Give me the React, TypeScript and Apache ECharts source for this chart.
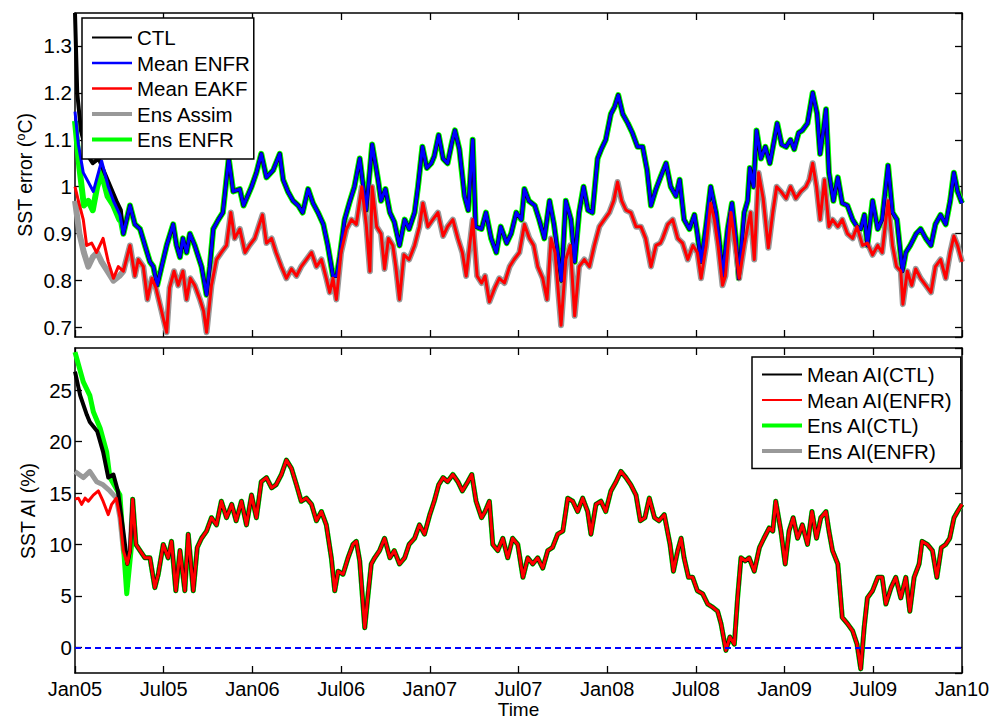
import React, { useEffect, useRef } from "react";
import * as echarts from "echarts";

// x = months after Jan 2005 (0 = Jan05, 60 = Jan10)
const tickLabels = ["Jan05", "Jul05", "Jan06", "Jul06", "Jan07", "Jul07", "Jan08", "Jul08", "Jan09", "Jul09", "Jan10"];

// ---------- Top panel: SST error (°C) ----------
const meanEnfr = [[0,1.16],[0.23,1.09],[0.56,1.03],[0.9,1.01],[1.24,0.99],[1.8,1.055],[2.25,1.0],[2.6,0.97],[3.04,0.94],[3.27,0.9],[3.72,0.96],[4.05,0.92],[4.4,0.91],[4.73,0.875],[5.07,0.84],[5.3,0.83],[5.56,0.79],[5.86,0.83],[6.2,0.875],[6.64,0.92],[6.87,0.875],[7.1,0.85],[7.3,0.89],[7.55,0.86],[7.77,0.9],[8.1,0.875],[8.56,0.83],[8.9,0.77],[9.12,0.83],[9.35,0.91],[9.7,0.93],[10.0,0.945],[10.4,1.06],[10.7,0.99],[11.15,0.995],[11.4,0.96],[11.94,1.0],[12.27,1.03],[12.6,1.07],[12.95,1.02],[13.4,1.035],[13.85,1.07],[14.08,1.015],[14.4,0.99],[14.75,0.97],[15.1,0.96],[15.4,0.945],[15.77,0.995],[16.1,0.965],[16.44,0.945],[16.8,0.92],[17.1,0.875],[17.45,0.81],[17.7,0.81],[17.9,0.85],[18.24,0.93],[18.6,0.97],[18.9,1.0],[19.26,1.06],[19.5,1.0],[19.7,0.95],[20.1,1.09],[20.5,1.015],[20.7,0.97],[21.0,0.995],[21.3,0.945],[21.6,0.925],[21.95,0.875],[22.3,0.93],[22.6,0.91],[22.97,0.945],[23.2,1.0],[23.5,1.085],[23.8,1.04],[24.1,1.05],[24.3,1.065],[24.6,1.11],[24.9,1.06],[25.2,1.05],[25.5,1.095],[25.7,1.12],[26.0,1.08],[26.35,0.98],[26.6,0.95],[26.9,1.1],[27.1,0.915],[27.5,0.91],[27.8,0.945],[28.15,0.89],[28.5,0.86],[28.8,0.915],[29.2,0.88],[29.5,0.9],[29.85,0.945],[30.2,0.93],[30.4,0.995],[30.7,0.97],[31.1,0.96],[31.4,0.93],[31.75,0.89],[32.1,0.97],[32.4,0.92],[32.9,0.8],[33.2,0.97],[33.55,0.93],[33.8,0.84],[34.1,0.945],[34.4,1.0],[34.7,0.95],[35.0,0.945],[35.35,1.06],[35.6,1.08],[35.9,1.1],[36.25,1.155],[36.5,1.17],[36.75,1.195],[37.05,1.155],[37.4,1.135],[37.7,1.115],[38.05,1.085],[38.4,1.085],[38.7,1.035],[38.96,0.96],[39.3,0.995],[39.6,1.02],[39.98,1.05],[40.3,1.0],[40.65,0.98],[40.9,1.015],[41.2,0.93],[41.56,0.91],[41.9,0.94],[42.1,0.9],[42.35,0.84],[42.7,0.92],[43.0,1.0],[43.36,0.945],[43.6,0.88],[43.8,0.81],[44.15,0.91],[44.44,0.965],[44.7,0.89],[44.9,0.805],[45.27,0.945],[45.5,0.97],[45.65,1.04],[45.9,1.0],[46.1,1.12],[46.4,1.06],[46.7,1.085],[47.0,1.05],[47.3,1.1],[47.5,1.135],[47.8,1.09],[48.1,1.085],[48.4,1.1],[48.65,1.08],[48.95,1.115],[49.2,1.12],[49.55,1.135],[49.9,1.2],[50.2,1.155],[50.4,1.07],[50.6,1.115],[50.8,1.165],[51.0,1.03],[51.3,0.97],[51.6,1.02],[51.9,0.965],[52.25,0.96],[52.6,0.93],[52.9,0.915],[53.15,0.91],[53.4,0.94],[53.6,0.875],[53.95,0.97],[54.3,0.91],[54.6,0.93],[55.0,1.045],[55.3,0.945],[55.6,0.93],[55.97,0.82],[56.2,0.86],[56.5,0.875],[56.9,0.9],[57.2,0.91],[57.55,0.89],[57.9,0.875],[58.2,0.92],[58.55,0.94],[58.9,0.92],[59.2,0.97],[59.45,1.03],[59.7,0.99],[60,0.965]];

const meanEakf = [[0,1.0],[0.23,0.97],[0.56,0.93],[0.79,0.875],[1.13,0.88],[1.46,0.86],[1.9,0.89],[2.25,0.84],[2.6,0.805],[2.93,0.83],[3.27,0.82],[3.72,0.875],[4.05,0.81],[4.28,0.845],[4.62,0.83],[4.9,0.76],[5.2,0.805],[5.47,0.785],[5.74,0.75],[6.2,0.69],[6.4,0.785],[6.7,0.82],[6.98,0.79],[7.3,0.82],[7.55,0.76],[7.8,0.805],[8.1,0.79],[8.45,0.76],[8.7,0.735],[8.9,0.69],[9.23,0.79],[9.57,0.845],[9.9,0.86],[10.25,0.875],[10.54,0.945],[10.8,0.89],[11.15,0.91],[11.5,0.86],[11.8,0.875],[12.16,0.89],[12.68,0.94],[12.95,0.88],[13.3,0.89],[13.6,0.86],[13.96,0.83],[14.3,0.805],[14.64,0.825],[14.98,0.81],[15.3,0.83],[15.65,0.845],[16.0,0.86],[16.33,0.83],[16.67,0.845],[17.0,0.805],[17.23,0.775],[17.45,0.805],[17.68,0.76],[18.0,0.86],[18.36,0.91],[18.7,0.93],[19.03,0.92],[19.4,1.0],[19.7,0.92],[19.95,0.82],[20.1,1.0],[20.4,0.915],[20.7,0.9],[20.94,0.825],[21.2,0.89],[21.5,0.875],[21.7,0.83],[21.95,0.76],[22.25,0.855],[22.6,0.845],[22.97,0.875],[23.3,0.915],[23.53,0.965],[23.87,0.915],[24.2,0.93],[24.55,0.945],[24.9,0.895],[25.2,0.915],[25.56,0.93],[25.9,0.89],[26.2,0.86],[26.46,0.81],[26.9,0.93],[27.2,0.81],[27.5,0.795],[27.74,0.81],[28.03,0.755],[28.4,0.785],[28.7,0.805],[29.05,0.795],[29.4,0.83],[29.7,0.845],[30.06,0.86],[30.4,0.92],[30.74,0.89],[31.03,0.875],[31.3,0.83],[31.64,0.805],[31.93,0.76],[32.2,0.89],[32.47,0.86],[32.88,0.705],[33.2,0.845],[33.5,0.875],[33.8,0.725],[34.1,0.83],[34.45,0.845],[34.8,0.83],[35.13,0.875],[35.47,0.915],[35.8,0.93],[36.14,0.945],[36.44,0.97],[36.7,1.01],[36.98,0.97],[37.27,0.95],[37.6,0.945],[37.95,0.915],[38.28,0.915],[38.6,0.89],[38.96,0.83],[39.3,0.875],[39.6,0.88],[39.75,0.89],[40.1,0.92],[40.43,0.93],[40.77,0.89],[41.1,0.88],[41.45,0.845],[41.8,0.875],[42.1,0.86],[42.35,0.805],[42.7,0.875],[43.0,0.965],[43.25,0.93],[43.5,0.875],[43.8,0.79],[44.0,0.81],[44.37,0.945],[44.66,0.875],[44.93,0.805],[45.27,0.875],[45.5,0.915],[45.7,0.945],[45.95,0.845],[46.24,1.03],[46.55,0.975],[46.9,0.87],[47.2,0.945],[47.46,1.0],[47.75,0.99],[48.1,0.975],[48.4,1.0],[48.76,0.975],[49.1,0.99],[49.44,1.0],[49.67,1.015],[49.9,1.05],[50.16,1.0],[50.4,0.93],[50.7,1.015],[51.0,0.915],[51.24,0.93],[51.6,0.915],[51.9,0.93],[52.25,0.9],[52.6,0.89],[52.9,0.915],[53.27,0.875],[53.6,0.88],[53.95,0.855],[54.3,0.875],[54.6,0.86],[55.0,0.97],[55.3,0.875],[55.57,0.83],[55.86,0.82],[56.0,0.75],[56.3,0.82],[56.6,0.79],[56.87,0.825],[57.2,0.805],[57.55,0.79],[57.9,0.775],[58.2,0.83],[58.55,0.845],[58.9,0.805],[59.2,0.86],[59.45,0.895],[59.7,0.875],[60,0.84]];

// where the other top curves leave the mean curves (first months); afterwards they overlap them
const ctlStart = [[0,1.37],[0.15,1.2],[0.4,1.12],[0.8,1.07],[1.2,1.05],[1.6,1.06],[2.0,1.03],[2.4,1.0],[2.8,0.97],[3.1,0.95]];
const ensEnfrStart = [[0,1.14],[0.3,1.04],[0.6,0.96],[0.9,0.97],[1.2,0.95],[1.5,1.0],[1.8,1.03],[2.2,0.98],[2.6,0.96],[3.0,0.93]];
const ensAssimStart = [[0,0.97],[0.3,0.9],[0.6,0.86],[0.9,0.83],[1.2,0.85],[1.5,0.86],[1.8,0.84],[2.2,0.82],[2.6,0.8],[3.0,0.81]];

// ---------- Bottom panel: SST AI (%) ----------
const meanAiEnfr = [[0,14.4],[0.23,14.5],[0.45,13.9],[0.68,14.5],[0.9,14.2],[1.24,14.8],[1.58,15.2],[1.9,14.2],[2.25,12.9],[2.48,13.9],[2.8,14.5],[3.04,12.6],[3.27,9.4],[3.54,8.1],[3.72,9.4],[3.9,14.4],[4.12,10.0],[4.4,9.4],[4.73,8.7],[5.07,8.7],[5.4,5.8],[5.63,7.1],[5.97,10.0],[6.3,8.7],[6.53,10.3],[6.82,5.5],[7.1,9.4],[7.43,5.5],[7.66,11.0],[8.0,5.5],[8.27,9.7],[8.56,10.6],[8.9,11.3],[9.23,12.6],[9.57,11.9],[9.9,14.2],[10.25,12.6],[10.6,13.9],[10.9,12.3],[11.26,14.2],[11.6,11.9],[11.94,14.8],[12.27,12.6],[12.6,16.1],[12.95,16.5],[13.3,15.5],[13.6,15.8],[13.96,16.8],[14.3,18.2],[14.64,17.4],[14.98,15.8],[15.3,14.2],[15.65,14.5],[16.0,13.9],[16.33,12.3],[16.67,13.2],[17.0,11.9],[17.34,8.7],[17.57,5.5],[17.8,7.4],[18.13,7.1],[18.47,8.7],[18.8,10.0],[19.03,10.3],[19.26,8.4],[19.6,1.9],[19.8,4.8],[20.04,8.1],[20.27,8.7],[20.6,9.4],[20.94,10.6],[21.3,8.7],[21.6,9.4],[21.95,8.1],[22.3,8.7],[22.6,10.0],[22.97,10.6],[23.3,11.9],[23.64,11.0],[24.0,12.9],[24.3,14.2],[24.6,15.8],[24.9,16.5],[25.2,16.1],[25.56,16.8],[25.9,16.1],[26.2,15.2],[26.57,16.1],[26.84,16.8],[27.13,14.2],[27.5,12.6],[27.74,13.2],[28.03,14.2],[28.26,10.0],[28.6,9.4],[28.94,10.6],[29.27,8.7],[29.6,10.6],[29.95,10.0],[30.3,6.8],[30.63,8.7],[30.96,8.1],[31.3,8.7],[31.64,7.7],[31.98,9.4],[32.3,9.7],[32.65,11.0],[33.0,11.3],[33.33,14.5],[33.67,14.2],[34.0,13.2],[34.34,14.5],[34.68,13.2],[34.9,11.0],[35.24,13.9],[35.58,14.2],[35.9,13.2],[36.25,15.2],[36.6,16.1],[36.93,17.1],[37.27,16.5],[37.6,15.8],[37.95,14.8],[38.24,12.3],[38.55,12.6],[38.85,14.5],[39.2,12.6],[39.5,12.3],[39.86,12.9],[40.25,10.0],[40.48,7.4],[40.77,9.4],[41.0,10.6],[41.2,8.7],[41.5,6.8],[41.78,6.8],[42.1,5.5],[42.46,5.2],[42.8,4.2],[43.13,3.9],[43.47,3.5],[43.7,2.3],[44.03,-0.3],[44.3,1.0],[44.6,0.3],[44.82,4.8],[45.05,8.7],[45.34,8.4],[45.6,8.7],[45.95,7.4],[46.3,9.7],[46.6,10.6],[46.96,11.6],[47.2,11.3],[47.4,14.2],[47.75,11.3],[48.04,8.1],[48.3,11.3],[48.58,12.6],[48.88,10.6],[49.2,11.9],[49.55,10.0],[49.85,13.2],[50.16,10.6],[50.45,12.6],[50.8,13.2],[51.0,11.3],[51.24,9.4],[51.6,8.1],[51.9,2.9],[52.25,2.3],[52.6,1.6],[52.9,0.3],[53.15,-2.1],[53.38,1.9],[53.6,4.8],[53.95,5.5],[54.3,6.8],[54.6,6.8],[54.85,4.2],[55.2,5.8],[55.52,6.8],[55.86,4.8],[56.2,6.8],[56.47,3.5],[56.76,6.8],[57.1,8.1],[57.3,10.3],[57.66,10.0],[58.0,9.4],[58.3,6.8],[58.6,9.7],[58.9,10.0],[59.17,10.6],[59.46,12.6],[59.7,13.2],[60,13.9]];

const meanAiCtlStart = [[0,26.8],[0.35,24.5],[0.8,22.6],[1.0,21.9],[1.5,21.0],[1.9,19.0],[2.25,16.5],[2.6,16.8],[2.9,15.2],[3.27,11.3]];
const ensAiCtlStart = [[0,28.7],[0.56,25.8],[1.0,24.5],[1.24,22.9],[1.7,21.3],[2.14,19.0],[2.36,16.5],[3.04,14.8],[3.5,5.2],[3.83,10.0]];
const ensAiEnfrStart = [[0,17.1],[0.56,16.5],[1.0,17.1],[1.46,16.1],[1.9,15.8],[2.36,15.2],[2.8,14.5]];

const FONT = "Liberation Sans, Arial, Helvetica, sans-serif";

// a curve that departs from a mean curve at the start and overlaps it afterwards
function joined(start: number[][], rest: number[][]) {
  const last = start[start.length - 1][0];
  return [...start, ...rest.filter((p) => p[0] > last)];
}

function xAxisPair(gridIndex: number, withLabels: boolean) {
  const line = { show: true, onZero: false, lineStyle: { color: "#000", width: 1.5 } };
  const tick = { show: true, inside: true, length: 7, lineStyle: { color: "#000", width: 1.3 } };
  const bottom: any = {
    type: "value", gridIndex, position: "bottom", min: 0, max: 60, interval: 6,
    axisLine: line, axisTick: tick, splitLine: { show: false },
    axisLabel: withLabels
      ? { show: true, color: "#000", fontSize: 20, fontFamily: FONT, margin: 6,
          formatter: (v: number) => tickLabels[Math.round(v / 6)] }
      : { show: false },
  };
  if (withLabels) {
    bottom.name = "Time";
    bottom.nameLocation = "middle";
    bottom.nameGap = 27;
    bottom.nameTextStyle = { color: "#000", fontSize: 19, fontFamily: FONT };
  }
  const top = {
    type: "value", gridIndex, position: "top", min: 0, max: 60, interval: 6,
    axisLine: line, axisTick: tick, splitLine: { show: false }, axisLabel: { show: false },
  };
  return [bottom, top];
}

function yAxisPair(gridIndex: number, min: number, max: number) {
  const line = { show: true, onZero: false, lineStyle: { color: "#000", width: 1.5 } };
  const tick = { show: true, inside: true, length: 7, lineStyle: { color: "#000", width: 1.3 } };
  return [
    {
      type: "value", gridIndex, position: "left", min, max, splitNumber: 6,
      axisLine: line, axisTick: tick, splitLine: { show: false },
      axisLabel: { color: "#000", fontSize: 20.5, fontFamily: FONT, margin: 3, showMinLabel: false, showMaxLabel: false },
    },
    {
      type: "value", gridIndex, position: "right", min, max, splitNumber: 6,
      axisLine: line, axisTick: tick, splitLine: { show: false }, axisLabel: { show: false },
    },
  ];
}

function lineSeries(name: string, data: number[][], color: string, width: number, axis: number) {
  return {
    type: "line", name, data, xAxisIndex: axis, yAxisIndex: axis,
    symbol: "none", showSymbol: false,
    lineStyle: { color, width, join: "round" }, itemStyle: { color },
    emphasis: { disabled: true },
  };
}

export default function App() {
  const ref = useRef<HTMLDivElement>(null);
  useEffect(() => {
    document.body.style.margin = "0";
    if (!ref.current) return;
    const chart = echarts.init(ref.current, null, { renderer: "svg" });
    const legendBase = {
      orient: "vertical", itemWidth: 40, itemHeight: 14, itemGap: 4.5,
      backgroundColor: "#fff", borderColor: "#000", borderWidth: 1.5, borderRadius: 0,
      textStyle: { color: "#000", fontSize: 20.5, fontFamily: FONT, lineHeight: 19 },
      itemStyle: { opacity: 0, borderWidth: 0 },
      selectedMode: false,
    };
    const redBottom: any = lineSeries("Mean AI(ENFR)", meanAiEnfr, "#ff0000", 3, 2);
    redBottom.markLine = {
      silent: true, symbol: ["none", "none"], label: { show: false },
      lineStyle: { color: "#0000ff", width: 2, type: [6, 4] },
      data: [{ yAxis: 0 }],
    };
    const option: any = {
      animation: false,
      grid: [
        { left: 75, top: 13, width: 887, height: 324 },
        { left: 75, top: 348, width: 887, height: 326 },
      ],
      xAxis: [...xAxisPair(0, false), ...xAxisPair(1, true)],
      yAxis: [...yAxisPair(0, 0.68, 1.37), ...yAxisPair(1, -2.5, 29.1)],
      legend: [
        { ...legendBase, left: 82, top: 18, padding: [9, 4, 9, 8],
          data: [
            { name: "CTL", lineStyle: { width: 2 } },
            { name: "Mean ENFR", lineStyle: { width: 2.5 } },
            { name: "Mean EAKF", lineStyle: { width: 2.5 } },
            { name: "Ens Assim", lineStyle: { width: 4 } },
            { name: "Ens ENFR", lineStyle: { width: 4 } },
          ] },
        { ...legendBase, left: 752, top: 357, padding: [7, 8, 7, 8],
          data: [
            { name: "Mean AI(CTL)", lineStyle: { width: 2 } },
            { name: "Mean AI(ENFR)", lineStyle: { width: 2 } },
            { name: "Ens AI(CTL)", lineStyle: { width: 4 } },
            { name: "Ens AI(ENFR)", lineStyle: { width: 4 } },
          ] },
      ],
      graphic: [
        {
          type: "text", x: 25, y: 175, rotation: Math.PI / 2,
          style: {
            text: "SST error ({s|o}C)", align: "center", verticalAlign: "middle",
            fill: "#000", fontSize: 19.5, fontFamily: FONT,
            rich: { s: { fontSize: 12.5, fontFamily: FONT, fill: "#000", verticalAlign: "top", padding: [0, 0, 8, 0] } },
          },
        },
        {
          type: "text", x: 28, y: 511, rotation: Math.PI / 2,
          style: { text: "SST AI (%)", align: "center", verticalAlign: "middle", fill: "#000", fontSize: 19.5, fontFamily: FONT },
        },
      ],
      series: [
        lineSeries("Ens ENFR", joined(ensEnfrStart, meanEnfr), "#00ff00", 6, 0),
        lineSeries("Ens Assim", joined(ensAssimStart, meanEakf), "#999999", 6, 0),
        lineSeries("CTL", joined(ctlStart, meanEnfr), "#000000", 4, 0),
        lineSeries("Mean ENFR", meanEnfr, "#0000ff", 3, 0),
        lineSeries("Mean EAKF", meanEakf, "#ff0000", 3, 0),
        lineSeries("Ens AI(ENFR)", joined(ensAiEnfrStart, meanAiEnfr), "#999999", 5, 2),
        lineSeries("Ens AI(CTL)", joined(ensAiCtlStart, meanAiEnfr), "#00ff00", 5, 2),
        lineSeries("Mean AI(CTL)", joined(meanAiCtlStart, meanAiEnfr), "#000000", 4, 2),
        redBottom,
      ],
    };
    chart.setOption(option);
    return () => chart.dispose();
  }, []);
  return <div ref={ref} style={{ width: 1002, height: 720 }} />;
}
